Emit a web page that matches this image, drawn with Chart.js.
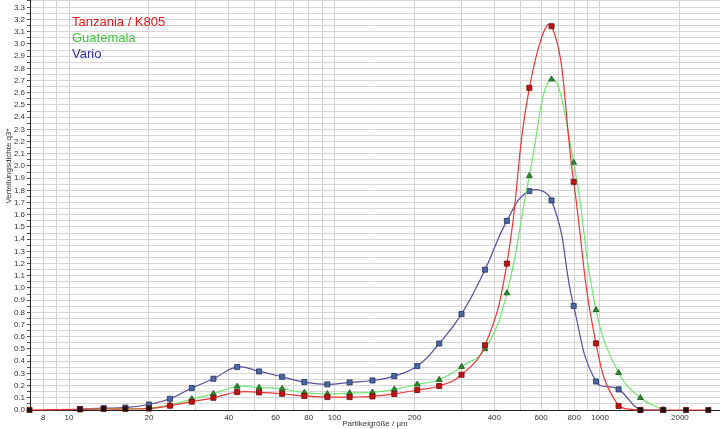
<!DOCTYPE html>
<html>
<head>
<meta charset="utf-8">
<script src="https://cdn.jsdelivr.net/npm/chart.js@4/dist/chart.umd.min.js"></script>
<style>
  html, body { margin: 0; padding: 0; background: #fff; overflow: hidden; }
  canvas { display: block; }
</style>
</head>
<body>
<canvas id="grafico" width="720" height="429"></canvas>
<script>
// Partikelgrößen (µm) der Messpunkte
const groessen = [7.1, 11, 13.5, 16.3, 20, 24, 29, 35, 43, 52, 63.5, 77, 94, 114, 139, 168, 205, 248, 301, 369, 446, 542, 657, 796, 966, 1175, 1420, 1730, 2110, 2560];

// Verteilungsdichte q3* je Probe
const tanzania = [0, 0.005, 0.008, 0.008, 0.012, 0.035, 0.068, 0.10, 0.147, 0.144, 0.133, 0.115, 0.106, 0.106, 0.111, 0.131, 0.164, 0.197, 0.289, 0.53, 1.20, 2.64, 3.145, 1.87, 0.546, 0.033, 0, 0, 0, 0];
const guatemala = [null, 0.005, 0.01, 0.01, 0.015, 0.04, 0.09, 0.133, 0.193, 0.183, 0.174, 0.142, 0.131, 0.139, 0.144, 0.169, 0.21, 0.248, 0.355, 0.50, 0.958, 1.919, 2.71, 2.028, 0.821, 0.305, 0.10, 0, null, null];
const vario = [null, 0.008, 0.015, 0.02, 0.045, 0.092, 0.18, 0.256, 0.352, 0.316, 0.272, 0.229, 0.21, 0.226, 0.242, 0.278, 0.36, 0.545, 0.786, 1.15, 1.55, 1.794, 1.717, 0.852, 0.234, 0.169, 0, 0, null, null];

const serienNamen = ['Tanzania / K805', 'Guatemala', 'Vario'];
const serienFarben = ['#e8161c', '#3cc83c', '#2c2ca8'];

// Achsen
const xGitter = [8, 9, 10, 20, 30, 40, 50, 60, 70, 80, 90, 100, 200, 300, 400, 500, 600, 700, 800, 900, 1000, 2000];
const xBeschriftung = [8, 10, 20, 40, 60, 80, 100, 200, 400, 600, 800, 1000, 2000];

function punkte(werte) {
    return groessen.map((g, i) => ({ x: g, y: werte[i] }));
}

// kleine Punkte nahe Null erscheinen dunkel
function punktFarbe(farbe) {
    return ctx => {
        const v = ctx.raw && ctx.raw.y;
        return (v !== null && v !== undefined && v < 0.016) ? '#151515' : farbe;
    };
}

const legendePlugin = {
    id: 'legendeText',
    afterDraw(chart) {
        const c = chart.ctx;
        c.save();
        c.font = '13px "Liberation Sans", Arial, sans-serif';
        c.textBaseline = 'middle';
        c.textAlign = 'left';
        serienNamen.forEach((n, i) => {
            c.fillStyle = serienFarben[i];
            c.fillText(n, 72, 22 + i * 16);
        });
        // y-Achsentitel
        c.font = '8px "Liberation Sans", Arial, sans-serif';
        c.fillStyle = '#333';
        c.translate(9, 166);
        c.rotate(-Math.PI / 2);
        c.textAlign = 'center';
        c.fillText('Verteilungsdichte q3*', 0, 0);
        c.restore();
    }
};

const ctx = document.getElementById('grafico').getContext('2d');
new Chart(ctx, {
    type: 'line',
    data: {
        datasets: [
            {
                label: serienNamen[0],
                data: punkte(tanzania),
                borderColor: '#ee3434',
                borderWidth: 1.2,
                pointStyle: 'rect',
                pointRadius: 3.6,
                pointBackgroundColor: punktFarbe('#c01414'),
                pointBorderColor: '#6e0c0c',
                pointBorderWidth: 0.8,
                tension: 0.45,
                clip: false
            },
            {
                label: serienNamen[1],
                data: punkte(guatemala),
                borderColor: '#6ee66e',
                borderWidth: 1.2,
                pointStyle: 'triangle',
                pointRadius: 3.4,
                pointBackgroundColor: punktFarbe('#2a8c2a'),
                pointBorderColor: '#175417',
                pointBorderWidth: 0.8,
                tension: 0.45,
                clip: false
            },
            {
                label: serienNamen[2],
                data: punkte(vario),
                borderColor: '#5a4c9e',
                borderWidth: 1.2,
                pointStyle: 'rect',
                pointRadius: 3.6,
                pointBackgroundColor: punktFarbe('#4c68a4'),
                pointBorderColor: '#26345e',
                pointBorderWidth: 0.8,
                tension: 0.45,
                clip: false
            }
        ]
    },
    options: {
        responsive: false,
        animation: false,
        layout: { padding: 0, autoPadding: false },
        plugins: {
            legend: { display: false },
            tooltip: { enabled: false }
        },
        scales: {
            x: {
                type: 'logarithmic',
                min: 7.13,
                max: 2832,
                afterBuildTicks: s => { s.ticks = xGitter.map(v => ({ value: v })); },
                afterFit: s => { s.height = 19; s.paddingLeft = 0; s.paddingRight = 0; },
                grid: { color: '#cfcfcf', lineWidth: 1, drawTicks: false },
                border: { display: true, color: '#222', width: 1 },
                ticks: {
                    autoSkip: false,
                    maxRotation: 0,
                    padding: 3,
                    color: '#333',
                    font: { size: 8, family: '"Liberation Sans", Arial, sans-serif' },
                    callback: v => xBeschriftung.includes(v) ? String(v) : ''
                },
                title: {
                    display: true,
                    text: 'Partikelgröße / µm',
                    color: '#333',
                    padding: { top: 0, bottom: 0 },
                    font: { size: 8, family: '"Liberation Sans", Arial, sans-serif' }
                }
            },
            y: {
                type: 'linear',
                min: 0,
                max: 3.36,
                afterFit: s => { s.width = 30; s.paddingTop = 0; s.paddingBottom = 0; },
                grid: { color: '#d6d6d6', lineWidth: 1, tickLength: 3, tickColor: '#555' },
                border: { display: true, color: '#222', width: 1 },
                ticks: {
                    stepSize: 0.05,
                    autoSkip: false,
                    padding: 2,
                    color: '#333',
                    font: { size: 8, family: '"Liberation Sans", Arial, sans-serif' },
                    callback: v => {
                        const t = v * 10;
                        return Math.abs(t - Math.round(t)) < 1e-6 ? v.toFixed(1) : '';
                    }
                }
            }
        }
    },
    plugins: [legendePlugin]
});
</script>
</body>
</html>
